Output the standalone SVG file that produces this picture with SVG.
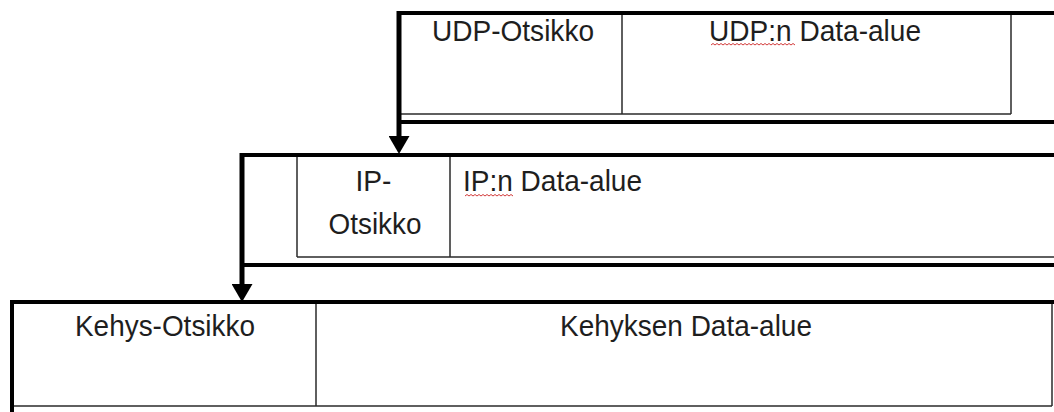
<svg xmlns="http://www.w3.org/2000/svg" width="1054" height="412" viewBox="0 0 1054 412">
<style>
.thick{stroke:#000;stroke-width:4;fill:none}
.thin{stroke:#2a2a2a;stroke-width:1.5;fill:none}
.conn{stroke:#000;stroke-width:5;fill:none}
.lbl{font-family:"Liberation Sans",Arial,sans-serif;font-size:30px;fill:#1e1e1e}
.sq{stroke:#d23a3a;stroke-width:1;fill:none}
</style>
<defs>
<marker id="ah" viewBox="0 0 18 21" refX="0" refY="10.5" markerWidth="18" markerHeight="21" markerUnits="userSpaceOnUse" orient="auto">
<path d="M0,0 L18,10.5 L0,21 z" fill="#000"/>
</marker>
</defs>
<rect width="1054" height="412" fill="#fff"/>
<g id="udp">
<line class="thin" x1="401" y1="114" x2="1011" y2="114"/>
<line class="thin" x1="1011" y1="15" x2="1011" y2="114"/>
<line class="thin" x1="622" y1="15" x2="622" y2="114"/>
<line class="thick" x1="397" y1="13" x2="1054" y2="13"/>
<line class="thick" x1="399" y1="122" x2="1054" y2="122"/>
<text class="lbl" x="513" y="41" text-anchor="middle" textLength="162" lengthAdjust="spacingAndGlyphs">UDP-Otsikko</text>
<text class="lbl" x="709" y="41" textLength="212" lengthAdjust="spacingAndGlyphs">UDP:n Data-alue</text>
<path class="sq" d="M711,45 l2,-1.5 2,1.5 2,-1.5 2,1.5 2,-1.5 2,1.5 2,-1.5 2,1.5 2,-1.5 2,1.5 2,-1.5 2,1.5 2,-1.5 2,1.5 2,-1.5 2,1.5 2,-1.5 2,1.5 2,-1.5 2,1.5 2,-1.5 2,1.5 2,-1.5 2,1.5 2,-1.5 2,1.5 2,-1.5 2,1.5 2,-1.5 2,1.5 2,-1.5 2,1.5 2,-1.5 2,1.5 2,-1.5 2,1.5 2,-1.5 2,1.5 2,-1.5 2,1.5 2,-1.5 2,1.5"/>
</g>
<g id="ip">
<line class="thin" x1="297" y1="157" x2="297" y2="257"/>
<line class="thin" x1="297" y1="257" x2="1054" y2="257"/>
<line class="thin" x1="450" y1="157" x2="450" y2="257"/>
<line class="thick" x1="240" y1="155" x2="1054" y2="155"/>
<line class="thick" x1="242" y1="265" x2="1054" y2="265"/>
<text class="lbl" x="373.5" y="191" text-anchor="middle" textLength="36" lengthAdjust="spacingAndGlyphs">IP-</text>
<text class="lbl" x="375" y="234" text-anchor="middle" textLength="93" lengthAdjust="spacingAndGlyphs">Otsikko</text>
<text class="lbl" x="463" y="191" textLength="179" lengthAdjust="spacingAndGlyphs">IP:n Data-alue</text>
<path class="sq" d="M465,196 l2,-1.5 2,1.5 2,-1.5 2,1.5 2,-1.5 2,1.5 2,-1.5 2,1.5 2,-1.5 2,1.5 2,-1.5 2,1.5 2,-1.5 2,1.5 2,-1.5 2,1.5 2,-1.5 2,1.5 2,-1.5 2,1.5 2,-1.5 2,1.5 2,-1.5 2,1.5"/>
</g>
<g id="kehys">
<line class="thin" x1="14" y1="406" x2="1052" y2="406"/>
<line class="thin" x1="1052" y1="304" x2="1052" y2="406"/>
<line class="thin" x1="316" y1="304" x2="316" y2="406"/>
<line class="thick" x1="10" y1="302" x2="1054" y2="302"/>
<line class="thick" x1="12" y1="300" x2="12" y2="412"/>
<text class="lbl" x="165" y="336" text-anchor="middle" textLength="180" lengthAdjust="spacingAndGlyphs">Kehys-Otsikko</text>
<text class="lbl" x="560" y="336" textLength="252" lengthAdjust="spacingAndGlyphs">Kehyksen Data-alue</text>
</g>
<g id="connectors">
<line class="conn" x1="399" y1="11" x2="399" y2="136" marker-end="url(#ah)"/>
<line class="conn" x1="242" y1="153" x2="242" y2="284" marker-end="url(#ah)"/>
</g>
</svg>
